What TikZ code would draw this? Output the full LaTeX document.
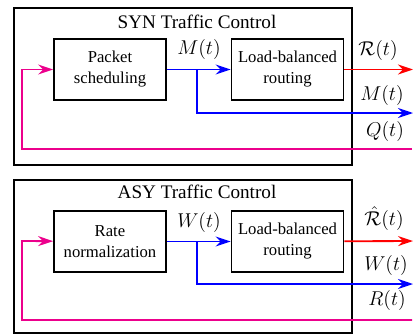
\documentclass[tikz,border=0pt]{standalone}
\usepackage{fontspec}
\setmainfont{Liberation Serif}
\usetikzlibrary{arrows.meta}

\begin{document}
\begin{tikzpicture}[x=0.6pt,y=-0.6pt,>={Stealth[length=9pt,width=6pt,inset=3pt]},
                outer/.style={draw,line width=1.3pt,minimum width=338*0.6pt,minimum height=#1*0.6pt},
                block/.style={draw,line width=1.1pt,minimum width=112*0.6pt,minimum height=61*0.6pt,align=center,font=\fontsize{10}{12.6}\selectfont},
                title/.style={font=\fontsize{11.5}{13}\selectfont},
                sig/.style={font=\fontsize{13}{15}\selectfont,inner sep=0.5pt},
                flow/.style={->,line width=1.1pt}
                ]
            \useasboundingbox (0,0) rectangle (414,335);

            % SYN
            \node[outer=157] (syn) at (183,86.5) {};
            \node[title] (syntitle) at (197,22) {SYN Traffic Control};
            \node[block] (sched) at (110,69.5) {Packet\\scheduling};
            \node[block] (lbr1) at (287.5,69.5) {Load-balanced\\routing};

            \coordinate (m1) at (197,69.5);
            \coordinate (rout1) at (413,69.5);
            \coordinate (mout1) at (413,113);
            \coordinate (qin1) at (412,149);
            \coordinate (qc1) at (22,69.5);

            \draw[flow,blue] (sched) to (lbr1);
            \draw[flow,blue] (m1) |- (mout1);
            \draw[flow,red] (lbr1) to (rout1);
            \draw[flow,magenta] (qin1) -| (qc1) to (sched);

            \node[sig] (lm1) at (199,50) {$M(t)$};
            \node[sig] (lr1) at (378,51) {$\mathcal{R}(t)$};
            \node[sig] (lmo1) at (382,95) {$M(t)$};
            \node[sig] (lq1) at (385,131) {$Q(t)$};

            % ASY
            \node[outer=153] (asy) at (183,256.5) {};
            \node[title] (asytitle) at (197,192) {ASY Traffic Control};
            \node[block] (norm) at (110,241.5) {Rate\\normalization};
            \node[block] (lbr2) at (287.5,241.5) {Load-balanced\\routing};

            \coordinate (w2) at (197,241);
            \coordinate (rout2) at (413,241);
            \coordinate (wout2) at (413,284);
            \coordinate (rin2) at (412,320);
            \coordinate (rc2) at (22,241);

            \draw[flow,blue] (norm) to (lbr2);
            \draw[flow,blue] (w2) |- (wout2);
            \draw[flow,red] (lbr2) to (rout2);
            \draw[flow,magenta] (rin2) -| (rc2) to (norm);

            \node[sig] (lw2) at (199,222) {$W(t)$};
            \node[sig] (lr2) at (384,219) {$\hat{\mathcal{R}}(t)$};
            \node[sig] (lwo2) at (386,265) {$W(t)$};
            \node[sig] (lrr2) at (387,300) {$R(t)$};

            \end{tikzpicture}
\end{document}
